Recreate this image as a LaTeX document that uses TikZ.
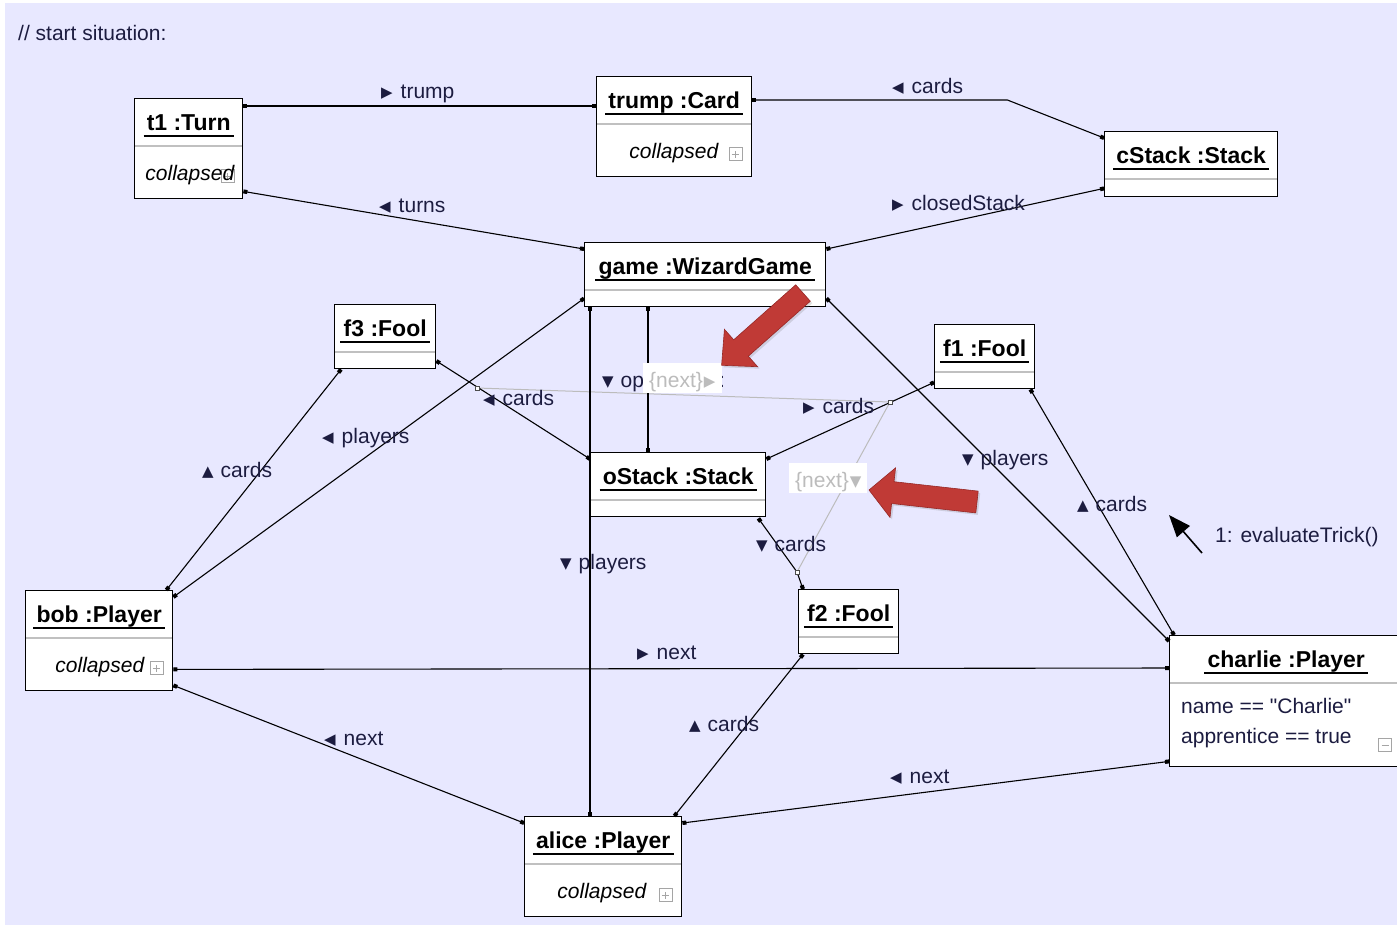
\documentclass[tikz,border=0pt]{standalone}
\usepackage{fontspec}
\setmainfont{Liberation Sans}
\newfontfamily\trifont{DejaVu Sans}
\newfontfamily\attrfont{Liberation Sans}[Ligatures=TeXOff]
\usetikzlibrary{arrows.meta,calc,shadows}

\definecolor{bglav}{RGB}{232,232,255}
\definecolor{labelink}{RGB}{28,28,64}
\definecolor{sepgray}{RGB}{192,192,192}
\definecolor{btngray}{RGB}{165,165,165}
\definecolor{nextgray}{RGB}{188,188,188}
\definecolor{hintred}{RGB}{192,58,54}
\definecolor{hintredd}{RGB}{150,40,38}

% small direction triangle in front of a role name
\newcommand\trig[1]{{\trifont\fontsize{15}{15}\selectfont\raisebox{1pt}{#1}}}

% object box: name, x, y, width, height, title
\newcommand\objbox[6]{%
  \node[obj, minimum width=#4pt, minimum height=#5pt] (#1) at (#2,#3) {};
  \node[ttl] (#1-t) at ($(#1.north)+(0,32)$) {#6};
  \draw[uline] ($(#1-t.base west)+(-3,6)$) -- ($(#1-t.base east)+(3,6)$);
  \draw[sep] ($(#1.north west)+(1,48)$) -- ($(#1.north east)+(-1,48)$);
}

\begin{document}
\begin{tikzpicture}[x=1pt,y=-1pt,
  font=\fontsize{21}{24}\selectfont,
  obj/.style={draw=black, line width=1.4pt, fill=white, anchor=north west, inner sep=0pt},
  ttl/.style={font=\fontsize{23}{26}\selectfont\bfseries, text=black, anchor=base, inner sep=0pt},
  uline/.style={line width=1.5pt},
  sep/.style={draw=sepgray, line width=1.6pt},
  attr/.style={font=\fontsize{21}{24}\selectfont\itshape, anchor=base east, inner sep=0pt},
  attrl/.style={font=\attrfont\fontsize{21}{24}\selectfont, text=labelink, anchor=base west, inner sep=0pt},
  lbl/.style={text=labelink, anchor=base west, inner sep=0pt},
  link/.style={line width=1.1pt, {Square[length=4pt,width=4pt]}-{Square[length=4pt,width=4pt]}},
  nextlink/.style={draw=nextgray, line width=1pt},
  linkdot/.style={draw=black!70, fill=white, line width=0.6pt, minimum size=4pt, inner sep=0pt},
  nextbox/.style={fill=white, inner sep=0pt, anchor=north west},
  nextlbl/.style={text=nextgray, anchor=base west, inner sep=0pt},
  btn/.style={draw=btngray, fill=white, line width=0.8pt, minimum size=13pt, inner sep=0pt},
  plusbtn/.style={btn, path picture={\draw[btngray, line width=1pt]
      ([xshift=-3.5pt]path picture bounding box.center) -- ([xshift=3.5pt]path picture bounding box.center)
      ([yshift=-3.5pt]path picture bounding box.center) -- ([yshift=3.5pt]path picture bounding box.center);}},
  minusbtn/.style={btn, path picture={\draw[btngray, line width=1pt]
      ([xshift=-3.5pt]path picture bounding box.center) -- ([xshift=3.5pt]path picture bounding box.center);}},
  hint/.style={fill=hintred, draw=hintredd, line width=0.6pt,
      drop shadow={shadow xshift=2pt, shadow yshift=-2pt, opacity=0.25}},
]
\useasboundingbox (0,0) rectangle (1397,927);
\fill[bglav] (5,3) rectangle (1397,925);

\node[lbl] (head) at (18,40) {// start situation:};

% ---------- objects ----------
\objbox{t1}{134}{98}{108}{100}{t1 :Turn}
\objbox{trump}{596}{76}{155}{100}{trump :Card}
\objbox{cstack}{1104}{131}{173}{65}{cStack :Stack}
\objbox{game}{584}{242}{241}{64}{game :WizardGame}
\objbox{f3}{334}{304}{101}{64}{f3 :Fool}
\objbox{f1}{934}{324}{100}{64}{f1 :Fool}
\objbox{ostack}{590}{452}{175}{64}{oStack :Stack}
\objbox{f2}{798}{589}{100}{64}{f2 :Fool}
\objbox{bob}{25}{590}{147}{100}{bob :Player}
\objbox{charlie}{1169}{635}{233}{131}{charlie :Player}
\objbox{alice}{524}{816}{157}{100}{alice :Player}

% collapsed attribute compartments
\node[plusbtn] (t1-b) at ($(t1.north east)+(-16,78)$) {};
\node[attr] (t1-c) at ($(t1.north east)+(-9,82)$) {collapsed};
\node[plusbtn] (trump-b) at ($(trump.north east)+(-17,78)$) {};
\node[attr] (trump-c) at ($(trump.north east)+(-34,82)$) {collapsed};
\node[plusbtn] (bob-b) at ($(bob.north east)+(-17,78)$) {};
\node[attr] (bob-c) at ($(bob.north east)+(-29,82)$) {collapsed};
\node[plusbtn] (alice-b) at ($(alice.north east)+(-17,79)$) {};
\node[attr] (alice-c) at ($(alice.north east)+(-36,82)$) {collapsed};

% charlie's attributes
\node[attrl] (charlie-a1) at (1181,713) {name == "Charlie"};
\node[attrl] (charlie-a2) at (1181,743) {apprentice == true};
\node[minusbtn] (charlie-b) at (1385,745) {};

% ---------- link-to-link "next" edges ----------
\coordinate (ld1) at (477,388);
\coordinate (ld2) at (890,402);
\coordinate (ld3) at (797,572);
\draw[nextlink] (ld1) -- (ld2) -- (ld3);

% ---------- links ----------
\draw[link] ($(t1.north east)+(0,8)$) -- ($(trump.north west)+(0,30)$);
\draw[link] ($(trump.north east)+(0,24)$) -- ($(trump.north east)+(255,24)$) -- ($(cstack.north west)+(0,7)$);
\draw[link] ($(t1.south east)+(0,-8)$) -- ($(game.north west)+(0,7)$);
\draw[link] ($(game.north east)+(0,7)$) -- ($(cstack.south west)+(0,-9)$);
\draw[link] ($(game.south west)+(0,-9)$) -- ($(bob.north east)+(0,7)$);
\draw[link] ($(game.south west)+(6,0)$) -- ($(alice.north west)+(66,0)$);
\draw[link] ($(game.south west)+(64,0)$) -- ($(ostack.north west)+(58,0)$);
\draw[link] ($(game.south east)+(0,-9)$) -- ($(charlie.north west)+(0,6)$);
\draw[link] ($(f3.north east)+(0,57)$) -- ($(ostack.north west)+(0,7)$);
\draw[link] ($(f3.south west)+(7,0)$) -- ($(bob.north east)+(-7,0)$);
\draw[link] ($(ostack.north east)+(0,7)$) -- ($(f1.south west)+(0,-7)$);
\draw[link] ($(ostack.south east)+(-8,1)$) -- (ld3) -- ($(f2.north west)+(5,0)$);
\draw[link] ($(f2.south west)+(5,0)$) -- ($(alice.north east)+(-8,0)$);
\draw[link] ($(f1.south east)+(-5,0)$) -- ($(charlie.north west)+(5,0)$);
\draw[link] ($(bob.south east)+(0,-22)$) -- ($(charlie.north west)+(0,33)$);
\draw[link] ($(bob.south east)+(0,-6)$) -- ($(alice.north west)+(0,7)$);
\draw[link] ($(alice.north east)+(0,7)$) -- ($(charlie.south west)+(0,-6)$);

\node[linkdot] (ld1-m) at (ld1) {};
\node[linkdot] (ld2-m) at (ld2) {};
\node[linkdot] (ld3-m) at (ld3) {};

% ---------- role labels ----------
\node[lbl] (l-trump)    at (381,98)  {\trig{▶}\hspace{8pt}trump};
\node[lbl] (l-cards1)   at (892,93)  {\trig{◀}\hspace{8pt}cards};
\node[lbl] (l-turns)    at (379,212) {\trig{◀}\hspace{8pt}turns};
\node[lbl] (l-closed)   at (892,210) {\trig{▶}\hspace{8pt}closedStack};
\node[lbl] (l-playersL) at (322,443) {\trig{◀}\hspace{8pt}players};
\node[lbl] (l-cardsF3)  at (483,405) {\trig{◀}\hspace{8pt}cards};
\node[lbl] (l-op)       at (602,387) {\trig{▼}\hspace{7pt}op};
\node[lbl] (l-colon)    at (719,387) {:};
\node[lbl] (l-cardsF1)  at (803,413) {\trig{▶}\hspace{8pt}cards};
\node[lbl] (l-playersR) at (962,465) {\trig{▼}\hspace{7pt}players};
\node[lbl] (l-cardsR)   at (1077,511) {\trig{▲}\hspace{7pt}cards};
\node[lbl] (l-cardsBob) at (202,477) {\trig{▲}\hspace{7pt}cards};
\node[lbl] (l-playersC) at (560,569) {\trig{▼}\hspace{7pt}players};
\node[lbl] (l-cardsF2)  at (756,551) {\trig{▼}\hspace{7pt}cards};
\node[lbl] (l-nextBC)   at (637,659) {\trig{▶}\hspace{8pt}next};
\node[lbl] (l-cardsAl)  at (689,731) {\trig{▲}\hspace{7pt}cards};
\node[lbl] (l-nextBA)   at (324,745) {\trig{◀}\hspace{8pt}next};
\node[lbl] (l-nextAC)   at (890,783) {\trig{◀}\hspace{8pt}next};

% ordering constraint labels
\node[nextbox, minimum width=79pt, minimum height=30pt] (nx1) at (643,363) {};
\node[nextlbl] (nx1-t) at (649,387) {\{next\}\hspace{1pt}\trig{▶}};
\node[nextbox, minimum width=78pt, minimum height=30pt] (nx2) at (789,463) {};
\node[nextlbl] (nx2-t) at (795,487) {\{next\}\hspace{1pt}\trig{▼}};

% ---------- message ----------
\coordinate (msg-tail) at (1202,553);
\coordinate (msg-tip) at (1169,515);
\draw[line width=1.6pt, -{Triangle[length=22pt,width=17pt]}] (msg-tail) -- (msg-tip);
\node[lbl] (msg) at (1215,542) {1: evaluateTrick()};

% ---------- hint arrows ----------
\path[hint] (795.7,284.8) -- (733.7,339.8) -- (724.4,329.3) -- (721.6,365.3)
  -- (757.6,366.7) -- (748.3,356.2) -- (810.3,301.2) -- cycle;
\path[hint] (978.2,491.1) -- (894.0,481.7) -- (895.6,467.8) -- (869,490)
  -- (890.0,517.4) -- (891.6,503.5) -- (975.8,512.9) -- cycle;
\end{tikzpicture}
\end{document}
